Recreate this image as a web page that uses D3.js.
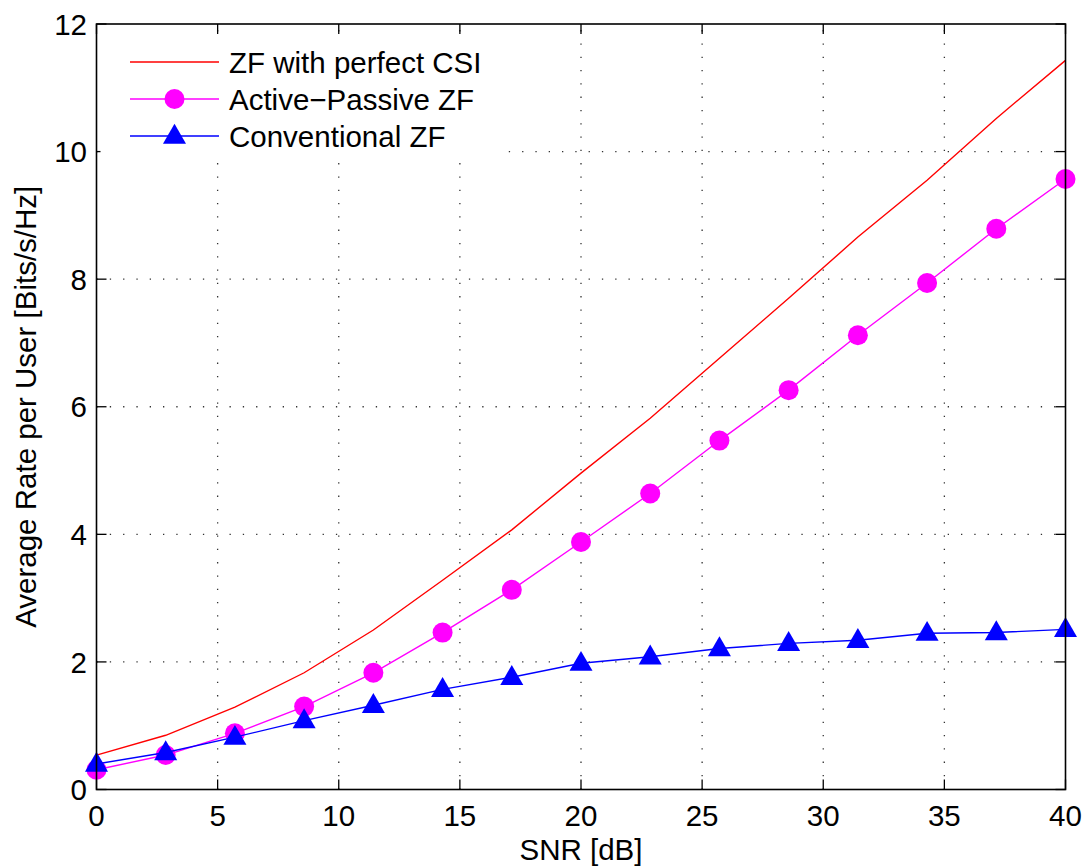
<!DOCTYPE html>
<html>
<head>
<meta charset="utf-8">
<script src="https://cdn.jsdelivr.net/npm/d3@7"></script>
<style>
  html, body { margin: 0; padding: 0; background: #fff; }
  svg { display: block; font-family: "Liberation Sans", Arial, Helvetica, sans-serif; }
</style>
</head>
<body>
<svg id="chart" width="1088" height="868"></svg>
<script>
// ---- data ----
const snr = [0, 2.857, 5.714, 8.571, 11.429, 14.286, 17.143, 20, 22.857, 25.714, 28.571, 31.429, 34.286, 37.143, 40];
const perfectCSI = [0.54, 0.85, 1.29, 1.83, 2.50, 3.28, 4.07, 4.96, 5.82, 6.76, 7.70, 8.66, 9.55, 10.52, 11.43];
const activePassive = [0.31, 0.54, 0.88, 1.30, 1.83, 2.46, 3.13, 3.88, 4.64, 5.47, 6.26, 7.12, 7.94, 8.79, 9.57];
const conventional = [0.40, 0.58, 0.82, 1.08, 1.32, 1.57, 1.76, 1.98, 2.08, 2.21, 2.29, 2.34, 2.45, 2.46, 2.51];
const xTicks = [0, 5, 10, 15, 20, 25, 30, 35, 40];
const yTicks = [0, 2, 4, 6, 8, 10, 12];
const seriesNames = ["ZF with perfect CSI", "Active\u2212Passive ZF", "Conventional ZF"];

// ---- layout ----
const svg = d3.select("#chart");
const L = 96.5, R = 1065.5, T = 24, B = 789.5;
const x = d3.scaleLinear().domain([0, 40]).range([L, R]);
const y = d3.scaleLinear().domain([0, 12]).range([B, T]);
const FS = 29.5;

const series = [
  { name: seriesNames[0], values: perfectCSI, color: "#ff0000", marker: null },
  { name: seriesNames[1], values: activePassive, color: "#ff00ff", marker: "circle" },
  { name: seriesNames[2], values: conventional, color: "#0000ff", marker: "triangle" }
];

// grid
const grid = svg.append("g");
grid.selectAll("line.vg").data(xTicks.slice(1, -1)).enter().append("line")
  .attr("x1", d => x(d)).attr("x2", d => x(d)).attr("y1", B).attr("y2", T)
  .attr("stroke", "#333").attr("stroke-width", 1.3).attr("stroke-dasharray", "1.3 12");
grid.selectAll("line.hg").data(yTicks.slice(1, -1)).enter().append("line")
  .attr("x1", L).attr("x2", R).attr("y1", d => y(d)).attr("y2", d => y(d))
  .attr("stroke", "#333").attr("stroke-width", 1.3).attr("stroke-dasharray", "1.3 12");

// ticks (inward, all four sides)
const tk = svg.append("g").attr("stroke", "#000").attr("stroke-width", 1.3);
xTicks.forEach(d => {
  tk.append("line").attr("x1", x(d)).attr("x2", x(d)).attr("y1", B).attr("y2", B - 10);
  tk.append("line").attr("x1", x(d)).attr("x2", x(d)).attr("y1", T).attr("y2", T + 10);
});
yTicks.forEach(d => {
  tk.append("line").attr("x1", L).attr("x2", L + 10).attr("y1", y(d)).attr("y2", y(d));
  tk.append("line").attr("x1", R).attr("x2", R - 10).attr("y1", y(d)).attr("y2", y(d));
});

// tick labels
svg.append("g").selectAll("text").data(xTicks).enter().append("text")
  .attr("x", d => x(d)).attr("y", 826).attr("text-anchor", "middle")
  .attr("font-size", FS).text(d => d);
svg.append("g").selectAll("text").data(yTicks).enter().append("text")
  .attr("x", 87).attr("y", d => y(d)).attr("dy", "0.36em").attr("text-anchor", "end")
  .attr("font-size", FS).text(d => d);

// axis titles
svg.append("text").attr("x", (L + R) / 2).attr("y", 860).attr("text-anchor", "middle")
  .attr("font-size", FS).text("SNR [dB]");
svg.append("text").attr("transform", `translate(36,${(T + B) / 2}) rotate(-90)`)
  .attr("text-anchor", "middle").attr("font-size", FS).text("Average Rate per User [Bits/s/Hz]");

const plot = svg.append("g");
const line = d3.line().x((d, i) => x(snr[i])).y(d => y(d));
const triSym = d3.symbol().type(d3.symbolTriangle).size(230);

function drawMarker(g, type, cx, cy, color) {
  if (type === "circle") {
    g.append("circle").attr("cx", cx).attr("cy", cy).attr("r", 10).attr("fill", color);
  } else if (type === "triangle") {
    g.append("path").attr("d", triSym()).attr("transform", `translate(${cx},${cy + 1})`)
      .attr("fill", color);
  }
}

series.forEach(s => {
  plot.append("path").datum(s.values).attr("d", line)
    .attr("fill", "none").attr("stroke", s.color).attr("stroke-width", 1.4);
  if (s.marker) {
    const mg = plot.append("g");
    s.values.forEach((v, i) => drawMarker(mg, s.marker, x(snr[i]), y(v), s.color));
  }
});

// legend (white box, no visible border)
const lg = svg.append("g");
lg.append("rect").attr("x", L + 4).attr("y", T + 10).attr("width", 400).attr("height", 124)
  .attr("fill", "#fff");
series.forEach((s, i) => {
  const ly = 62 + i * 37;
  lg.append("line").attr("x1", 130).attr("x2", 219).attr("y1", ly).attr("y2", ly)
    .attr("stroke", s.color).attr("stroke-width", 1.4);
  if (s.marker) drawMarker(lg, s.marker, 174.5, ly, s.color);
  lg.append("text").attr("x", 229).attr("y", ly).attr("dy", "0.36em")
    .attr("font-size", FS).text(s.name);
});

// frame
svg.append("rect").attr("x", L).attr("y", T).attr("width", R - L).attr("height", B - T)
  .attr("fill", "none").attr("stroke", "#000").attr("stroke-width", 1.6);
</script>
</body>
</html>
